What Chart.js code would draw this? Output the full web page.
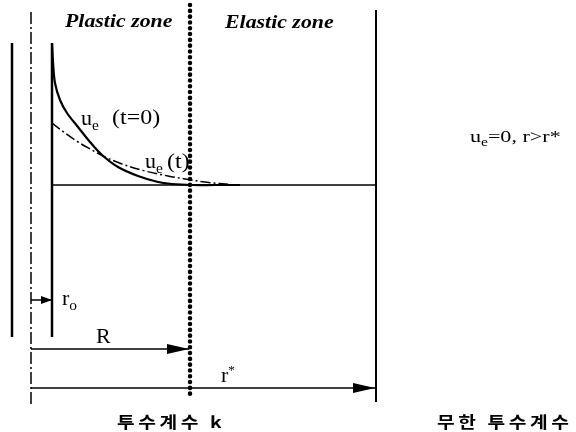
<!DOCTYPE html>
<html>
<head>
<meta charset="utf-8">
<script src="https://cdn.jsdelivr.net/npm/chart.js@4"></script>
<style>
  html, body { margin: 0; padding: 0; background: #fff; }
  canvas { display: block; }
</style>
</head>
<body>
<canvas id="fig" width="576" height="432"></canvas>
<script>
// ===============================
// Données (plan de la figure : x vers la droite, y vers le bas)
// ===============================
const outerWallX = [12, 12];
const outerWallY = [43, 337];
const innerWallX = [52, 52];
const innerWallY = [43, 337];
const axisLineX = [31, 31];
const axisLineY = [12, 407];
const plasticBoundX = [190, 190];
const plasticBoundY = [5, 397];
const farBoundX = [376, 376];
const farBoundY = [10, 402];
const groundX = [52, 376];
const groundY = [185, 185];

// u_e (t=0) : courbe pleine
const ueInitX = [52, 53, 55, 60, 67, 78, 90, 102, 118, 138, 158, 172, 192, 215, 240];
const ueInitY = [44, 62, 83, 100, 113, 127, 142, 155, 167, 176, 182, 184, 185, 185, 185];

// u_e (t) : courbe mixte
const ueTimeX = [52, 65, 78, 92, 103, 122, 145, 168, 185, 205, 235];
const ueTimeY = [123, 133, 142, 150, 156, 164, 171, 176, 179, 182, 185];

// flèches r_o, R, r*
const roArrowX = [31, 52];
const roArrowY = [300, 300];
const rArrowX = [31, 189];
const rArrowY = [349, 349];
const rStarArrowX = [31, 375];
const rStarArrowY = [388, 388];

// ===============================
// Textes
// ===============================
const SERIF = '"Liberation Serif", "DejaVu Serif", serif';
const KR = '"Noto Sans CJK KR", sans-serif';

const notes = [
  { text: "Plastic zone", x: 65, y: 27, size: 19, style: "bold italic", family: SERIF, sx: 1.15 },
  { text: "Elastic zone", x: 225, y: 28, size: 19, style: "bold italic", family: SERIF, sx: 1.15 },
  { text: "u_e", x: 81, y: 125, size: 20, style: "", family: SERIF, sx: 1.1 },
  { text: "(t=0)", x: 112, y: 124, size: 20, style: "", family: SERIF, sx: 1.2 },
  { text: "u_e", x: 145, y: 168, size: 20, style: "", family: SERIF, sx: 1.1 },
  { text: "(t)", x: 167, y: 168, size: 20, style: "", family: SERIF, sx: 1.2 },
  { text: "u_e=0, r>r*", x: 470, y: 142, size: 17, style: "", family: SERIF, sx: 1.3 },
  { text: "r_o", x: 62, y: 305, size: 20, style: "", family: SERIF, sx: 1.1 },
  { text: "R", x: 96, y: 343, size: 20, style: "", family: SERIF, sx: 1.1 },
  { text: "r^*", x: 221, y: 382, size: 20, style: "", family: SERIF, sx: 1.1 },
  { text: "투수계수 k", x: 117, y: 428, size: 16, style: "bold", family: KR, sx: 1.2, ls: 3 },
  { text: "무한 투수계수", x: 437, y: 428, size: 16, style: "bold", family: KR, sx: 1.2, ls: 3 }
];

// ===============================
// Fonctions
// ===============================
function pts(xs, ys) {
  return xs.map((v, i) => ({ x: v, y: ys[i] }));
}

function line(xs, ys, extra) {
  return Object.assign({
    data: pts(xs, ys),
    showLine: true,
    pointRadius: 0,
    borderColor: "#000",
    borderWidth: 2,
    tension: 0
  }, extra || {});
}

// ----------
// Têtes de flèche
// ----------
const arrowPlugin = {
  id: "arrows",
  afterDatasetsDraw(chart) {
    const ctx = chart.ctx;
    chart.data.datasets.forEach((ds, i) => {
      if (!ds.arrowLen) return;
      const el = chart.getDatasetMeta(i).data;
      const a = el[el.length - 2], b = el[el.length - 1];
      const ang = Math.atan2(b.y - a.y, b.x - a.x);
      ctx.save();
      ctx.translate(b.x, b.y);
      ctx.rotate(ang);
      ctx.fillStyle = "#000";
      ctx.beginPath();
      ctx.moveTo(0, 0);
      ctx.lineTo(-ds.arrowLen, -ds.arrowHalf);
      ctx.lineTo(-ds.arrowLen, ds.arrowHalf);
      ctx.closePath();
      ctx.fill();
      ctx.restore();
    });
  }
};

// ----------
// Annotations (indices / exposants)
// ----------
const notesPlugin = {
  id: "notes",
  afterDatasetsDraw(chart) {
    const { ctx, scales } = chart;
    notes.forEach(n => {
      ctx.save();
      ctx.translate(scales.x.getPixelForValue(n.x), scales.y.getPixelForValue(n.y));
      ctx.scale(n.sx || 1, 1);
      ctx.fillStyle = "#000";
      ctx.textBaseline = "alphabetic";
      if ("letterSpacing" in ctx) ctx.letterSpacing = (n.ls || 0) + "px";
      let cx = 0;
      for (let i = 0; i < n.text.length; i++) {
        let ch = n.text[i], dy = 0, s = n.size;
        if (ch === "_") { ch = n.text[++i]; dy = n.size * 0.25; s = n.size * 0.7; }
        else if (ch === "^") { ch = n.text[++i]; dy = -n.size * 0.4; s = n.size * 0.6; }
        ctx.font = `${n.style} ${s}px ${n.family}`;
        ctx.fillText(ch, cx, dy);
        cx += ctx.measureText(ch).width;
      }
      ctx.restore();
    });
  }
};

// ===============================
// Graphique
// ===============================
new Chart(document.getElementById("fig"), {
  type: "scatter",
  data: {
    datasets: [
      line(outerWallX, outerWallY, { borderWidth: 2.5 }),
      line(innerWallX, innerWallY, { borderWidth: 2.5 }),
      line(axisLineX, axisLineY, { borderWidth: 1.5, borderDash: [12, 3, 2, 3] }),
      line(plasticBoundX, plasticBoundY, { borderWidth: 4.5, borderDash: [0.1, 5.7], borderCapStyle: "round" }),
      line(farBoundX, farBoundY, { borderWidth: 2 }),
      line(groundX, groundY, { borderWidth: 1.6 }),
      line(ueInitX, ueInitY, { borderWidth: 2.2, tension: 0.35 }),
      line(ueTimeX, ueTimeY, { borderWidth: 1.5, tension: 0.35, borderDash: [10, 3, 2, 3] }),
      line(roArrowX, roArrowY, { borderWidth: 1.5, arrowLen: 11, arrowHalf: 4 }),
      line(rArrowX, rArrowY, { borderWidth: 1.6, arrowLen: 22, arrowHalf: 5 }),
      line(rStarArrowX, rStarArrowY, { borderWidth: 1.6, arrowLen: 22, arrowHalf: 5 })
    ]
  },
  options: {
    responsive: false,
    animation: false,
    layout: { padding: 0 },
    plugins: { legend: { display: false }, tooltip: { enabled: false } },
    scales: {
      x: { type: "linear", min: 0, max: 576, display: false },
      y: { type: "linear", min: 0, max: 432, reverse: true, display: false }
    }
  },
  plugins: [arrowPlugin, notesPlugin]
});
</script>
</body>
</html>
